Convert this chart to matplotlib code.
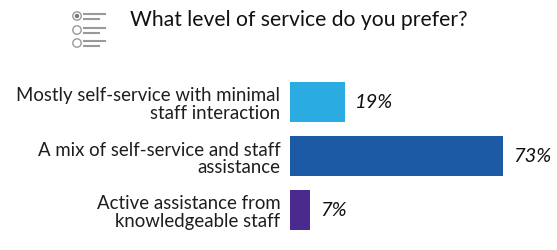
import matplotlib.pyplot as plt
from matplotlib.patches import Circle
from matplotlib.transforms import IdentityTransform

# data
categories = ['Mostly self-service with minimal\nstaff interaction',
              'A mix of self-service and staff\nassistance',
              'Active assistance from\nknowledgeable staff']
values = [19, 73, 7]
value_labels = ['19%', '73%', '7%']
colors = ['#2aace2', '#1d5aa6', '#4a2a8c']
title = 'What level of service do you prefer?'

plt.rcParams['font.family'] = ['Lato', 'DejaVu Sans']

W, H = 557, 251
fig = plt.figure(figsize=(W / 100, H / 100), dpi=100)

# bar axes, placed in pixels
x0, x1 = 290, 557
y_top, y_bot = 76, 238
ax = fig.add_axes([x0 / W, 1 - y_bot / H, (x1 - x0) / W, (y_bot - y_top) / H])
ax.barh(range(len(values)), values, height=0.74, color=colors)
ax.set_xlim(0, (x1 - x0) / 2.92)
ax.set_ylim(len(values) - 0.5, -0.5)
ax.set_yticks(range(len(values)))
ax.set_yticklabels(categories, fontsize=13.4, color='#1e1e1e', linespacing=1.05)
ax.tick_params(axis='y', length=0, pad=7)
ax.set_xticks([])
for s in ax.spines.values():
    s.set_visible(False)
for i, (v, lab) in enumerate(zip(values, value_labels)):
    ax.text(v + 3.3, i, lab, va='center', ha='left', fontsize=14.5,
            style='italic', color='#111111')

# title
fig.text(130 / W, 1 - 20 / H, title, fontsize=15.2, va='center', ha='left',
         color='#111111')

# radio-list icon (pixel coords)
px = IdentityTransform()
for k, cy in enumerate([17, 31, 44]):
    fig.add_artist(Circle((77, H - cy), 4.2, transform=px,
                          fill=False, ec='#9a9a9a', lw=1.0))
    if k == 0:
        fig.add_artist(Circle((77, H - cy), 2.2, transform=px,
                              fc='#777777', ec='none'))
    fig.add_artist(plt.Line2D([84, 105], [H - cy + 2] * 2, transform=px,
                              color='#9a9a9a', lw=1.5))
    fig.add_artist(plt.Line2D([84, 99], [H - cy - 2.5] * 2, transform=px,
                              color='#9a9a9a', lw=1.5))

fig.savefig('out.png', dpi=100)
